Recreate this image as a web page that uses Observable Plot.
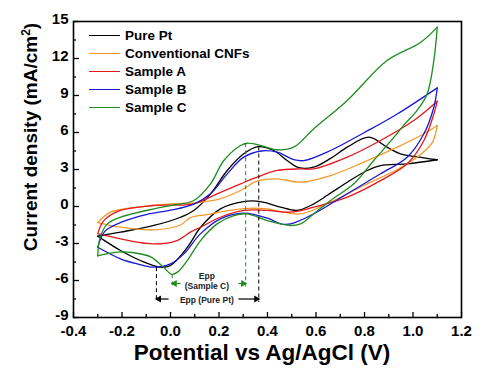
<!DOCTYPE html>
<html><head><meta charset="utf-8">
<script src="https://cdn.jsdelivr.net/npm/d3@7"></script>
<script src="https://cdn.jsdelivr.net/npm/@observablehq/plot@0.6"></script>
<style>
html,body{margin:0;padding:0;background:#fff;}
#wrap{position:relative;width:490px;height:377px;font-family:"Liberation Sans",Arial,sans-serif;}
.legend{position:absolute;left:89px;top:27px;}
.row{display:flex;align-items:center;height:17.8px;}
.swatch{width:31px;height:0;border-top:1.5px solid;margin-right:5px;}
.lab{font-weight:bold;font-size:13.5px;color:#000;white-space:nowrap;}
.ylab{position:absolute;left:30px;top:137px;transform:translate(-50%,-50%) rotate(-90deg);font-weight:bold;font-size:19px;white-space:nowrap;color:#000;line-height:1;}
.ylab sup{font-size:12px;vertical-align:7px;line-height:0;}
</style></head><body><div id="wrap"></div>
<script>
// ---- data (potential V, current density mA/cm2) ----
const seriesNames = ["Pure Pt", "Conventional CNFs", "Sample A", "Sample B", "Sample C"];
const seriesColors = ["#000000", "#f39a2a", "#e3191c", "#1818d6", "#1e8c1e"];

const purePtForward = [[-0.3,-2.4],[-0.206,-2.08],[-0.069,-1.54],[0.041,-0.87],[0.096,-0.32],[0.165,1.03],[0.234,2.92],[0.302,4.27],[0.36,4.85],[0.426,4.54],[0.481,3.73],[0.53,3.15],[0.59,3.19],[0.66,3.9],[0.729,4.81],[0.818,5.62],[0.893,4.81],[0.948,4.27],[1.045,3.95],[1.1,3.79]];
const purePtReverse = [[1.1,3.79],[0.976,3.46],[0.866,3.32],[0.811,2.92],[0.729,1.97],[0.65,0.95],[0.58,0.1],[0.52,-0.32],[0.454,-0.05],[0.371,0.4],[0.302,0.4],[0.206,-0.19],[0.124,-1.68],[0.07,-3.3],[0.0,-4.78],[-0.041,-4.92],[-0.124,-4.38],[-0.206,-3.57],[-0.3,-2.4]];

const cnfForward = [[-0.3,-1.3],[-0.247,-0.46],[-0.137,-0.05],[0.0,0.22],[0.1,0.3],[0.192,0.55],[0.289,1.3],[0.357,2.05],[0.44,2.24],[0.536,1.97],[0.66,2.51],[0.797,3.59],[0.935,4.81],[1.045,5.9],[1.1,6.57]];
const cnfReverse = [[1.1,6.57],[1.08,5.2],[1.03,4.2],[0.935,3.0],[0.797,1.7],[0.66,0.35],[0.536,-0.6],[0.454,-0.4],[0.4,-0.2],[0.32,-0.15],[0.25,-0.3],[0.15,-0.65],[0.082,-0.9],[0.041,-1.5],[-0.069,-1.9],[-0.206,-1.68],[-0.3,-1.3]];

const sampleAForward = [[-0.3,-2.2],[-0.275,-1.14],[-0.206,-0.32],[-0.069,0.08],[0.096,0.22],[0.192,1.03],[0.289,1.84],[0.357,2.38],[0.44,2.92],[0.536,3.05],[0.591,3.05],[0.729,4.0],[0.866,5.35],[1.003,6.97],[1.1,8.54]];
const sampleAReverse = [[1.1,8.54],[1.086,7.5],[1.045,5.35],[0.976,3.46],[0.866,2.1],[0.729,0.76],[0.591,-0.05],[0.495,-0.46],[0.399,-0.32],[0.302,-0.32],[0.206,-0.87],[0.124,-1.68],[0.082,-2.08],[0.027,-2.76],[-0.069,-3.03],[-0.206,-2.62],[-0.3,-2.2]];

const sampleBForward = [[-0.3,-3.3],[-0.27,-2.0],[-0.2,-1.25],[-0.1,-0.65],[0.0,-0.3],[0.096,0.2],[0.165,1.03],[0.234,2.65],[0.302,4.0],[0.375,4.5],[0.44,4.4],[0.508,3.8],[0.55,3.72],[0.66,4.54],[0.8,6.0],[0.935,7.5],[1.1,9.62]];
const sampleBReverse = [[1.1,9.62],[1.086,8.05],[1.045,5.9],[0.976,4.0],[0.866,2.65],[0.729,1.03],[0.591,-0.59],[0.495,-1.41],[0.454,-1.4],[0.4,-0.95],[0.302,-0.54],[0.206,-1.0],[0.124,-2.2],[0.055,-3.84],[0.0,-4.65],[-0.069,-4.92],[-0.137,-4.65],[-0.206,-4.24],[-0.3,-3.3]];

const sampleCForward = [[-0.3,-4.0],[-0.29,-2.5],[-0.26,-1.41],[-0.206,-0.87],[-0.069,-0.19],[0.0,0.08],[0.096,0.49],[0.165,1.84],[0.22,3.73],[0.289,4.95],[0.316,5.13],[0.371,4.95],[0.44,4.6],[0.508,4.81],[0.591,6.3],[0.729,8.6],[0.893,11.84],[1.031,13.3],[1.1,14.54]];
const sampleCReverse = [[1.1,14.54],[1.086,11.84],[1.058,9.1],[1.017,7.8],[0.962,6.6],[0.921,5.6],[0.838,3.73],[0.756,1.84],[0.66,0.49],[0.591,-0.59],[0.536,-1.41],[0.495,-1.54],[0.454,-1.41],[0.399,-1.14],[0.316,-0.6],[0.261,-0.73],[0.192,-1.41],[0.124,-2.76],[0.069,-4.38],[0.03,-5.3],[0.005,-5.5],[-0.03,-4.9],[-0.08,-4.1],[-0.15,-3.75],[-0.22,-3.7],[-0.3,-4.0]];

const xMajorTicks = [-0.4,-0.2,0.0,0.2,0.4,0.6,0.8,1.0,1.2];
const xMinorTicks = [-0.3,-0.1,0.1,0.3,0.5,0.7,0.9,1.1];
const yMajorTicks = [-9,-6,-3,0,3,6,9,12,15];
const yMinorTicks = [-7.5,-4.5,-1.5,1.5,4.5,7.5,10.5,13.5];

// Epp annotation values
const eppSampleC = [0.007, 0.31];
const eppSampleCTops = [-5.5, 5.13];
const eppSampleCLevel = -6.24;
const eppSampleCArrowInner = [0.041, 0.28];
const eppPurePt = [-0.058, 0.364];
const eppPurePtTops = [-4.92, 4.86];
const eppPurePtLevel = -7.5;
const eppPurePtArrowInner = [-0.008, 0.28];
const eppTextX = 0.15;
const eppTexts = ["Epp", "(Sample C)", "Epp (Pure Pt)"];
const eppTextY = [-5.62, -6.49, -7.57];

// ---- build ----
const curves = [[purePtForward, purePtReverse],[cnfForward, cnfReverse],[sampleAForward, sampleAReverse],[sampleBForward, sampleBReverse],[sampleCForward, sampleCReverse]];
const pts = [];
curves.forEach((pair, i) => pair.forEach((arr, b) => arr.forEach(([x, y]) => pts.push({x, y, series: seriesNames[i], key: i + "-" + b}))));

const colC = seriesColors[4], colPt = "#000";
const vlines = [
  ...eppSampleC.map((x, i) => ({x, y1: eppSampleCTops[i], y2: eppSampleCLevel - 0.25, c: colC})),
  ...eppPurePt.map((x, i) => ({x, y1: eppPurePtTops[i], y2: eppPurePtLevel - 0.25, c: colPt}))
];
const arrows = [
  ...eppSampleC.map((x, i) => ({x1: eppSampleCArrowInner[i], x2: x, y: eppSampleCLevel, c: colC, dir: i === 0 ? -1 : 1})),
  ...eppPurePt.map((x, i) => ({x1: eppPurePtArrowInner[i], x2: x, y: eppPurePtLevel, c: colPt, dir: i === 0 ? -1 : 1}))
];
const eppTextData = eppTexts.map((t, i) => ({t, x: eppTextX, y: eppTextY[i]}));

const fmtX = d => d.toFixed(1);
const fmtY = d => String(d);

const chart = Plot.plot({
  width: 490, height: 377,
  marginLeft: 73, marginRight: 29, marginTop: 21, marginBottom: 60,
  style: {fontFamily: "'Liberation Sans', Arial, sans-serif", background: "white", overflow: "visible"},
  x: {domain: [-0.4, 1.2]},
  y: {domain: [-9, 15]},
  color: {domain: seriesNames, range: seriesColors},
  marks: [
    Plot.line(pts, {x: "x", y: "y", z: "key", stroke: "series", strokeWidth: 1.3, curve: "catmull-rom"}),
    Plot.link(vlines, {x1: "x", x2: "x", y1: "y1", y2: "y2", stroke: "c", strokeWidth: 1, strokeDasharray: "4,3"}),
    Plot.link(arrows, {x1: "x1", x2: "x2", y1: "y", y2: "y", stroke: "c", strokeWidth: 1.2}),
    Plot.dot(arrows.filter(a => a.dir < 0), {x: "x2", y: "y", fill: "c", symbol: "triangle", r: 2.6, rotate: -90, dx: 2.5}),
    Plot.dot(arrows.filter(a => a.dir > 0), {x: "x2", y: "y", fill: "c", symbol: "triangle", r: 2.6, rotate: 90, dx: -2.5}),
    Plot.text(eppTextData, {x: "x", y: "y", text: "t", fontSize: 8.5, fontWeight: "bold", fill: "#222"}),
    Plot.tickX(xMajorTicks, {x: d => d, insetTop: 296 - 5, strokeWidth: 1.3}),
    Plot.tickX(xMinorTicks, {x: d => d, insetTop: 296 - 3, strokeWidth: 1.3}),
    Plot.tickY(yMajorTicks, {y: d => d, insetRight: 388 - 6, strokeWidth: 1.3}),
    Plot.tickY(yMinorTicks, {y: d => d, insetRight: 388 - 3, strokeWidth: 1.3}),
    Plot.axisX({ticks: xMajorTicks, tickSize: 0, tickPadding: 8, tickFormat: fmtX, fontSize: 15, fontWeight: "bold", label: null}),
    Plot.axisY({ticks: yMajorTicks, tickSize: 0, tickPadding: 5, tickFormat: fmtY, fontSize: 15, fontWeight: "bold", label: null, dy: -2}),
    Plot.frame({strokeWidth: 1.6}),
    Plot.text(["Potential vs Ag/AgCl (V)"], {text: d => d, frameAnchor: "bottom", dy: 42.5, dx: -5.5, fontSize: 22.5, fontWeight: "bold"})
  ]
});
const wrap = document.getElementById("wrap");
wrap.appendChild(chart);
const ylab = document.createElement("div");
ylab.className = "ylab";
ylab.innerHTML = "Current density (mA/cm<sup>2</sup>)";
wrap.appendChild(ylab);
const legend = document.createElement("div");
legend.className = "legend";
seriesNames.forEach((n, i) => {
  const row = document.createElement("div"); row.className = "row";
  const sw = document.createElement("span"); sw.className = "swatch"; sw.style.borderTopColor = seriesColors[i];
  const lab = document.createElement("span"); lab.className = "lab"; lab.textContent = n;
  row.appendChild(sw); row.appendChild(lab); legend.appendChild(row);
});
wrap.appendChild(legend);
</script></body></html>
